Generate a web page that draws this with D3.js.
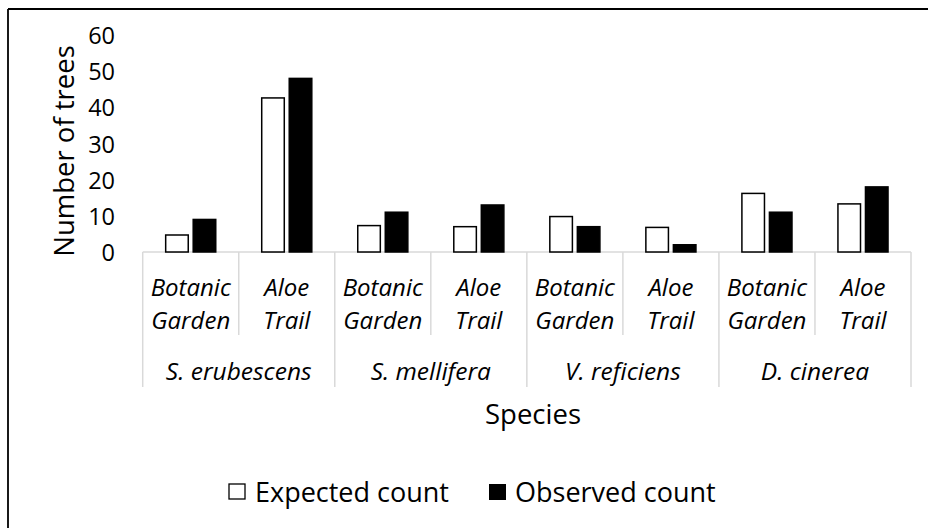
<!DOCTYPE html>
<html>
<head>
<meta charset="utf-8">
<script src="https://cdn.jsdelivr.net/npm/d3@7"></script>
<style>
  body { margin: 0; background: #fff; }
  text { font-family: 'Open Sans', sans-serif; fill: #000; }
</style>
</head>
<body>
<svg id="chart" width="928" height="528"></svg>
<script>
var sites = ["Botanic Garden", "Aloe Trail"];
var species = ["S. erubescens", "S. mellifera", "V. reficiens", "D. cinerea"];
var seriesNames = ["Expected count", "Observed count"];
var expected = [4.7, 42.6, 7.3, 7.0, 9.8, 6.8, 16.2, 13.3];
var observed = [9, 48, 11, 13, 7, 2, 11, 18];
var yTicks = [0, 10, 20, 30, 40, 50, 60];

var svg = d3.select("#chart");
var grid = "#d9d9d9";

// frame (only top and left edges show)
svg.append("line").attr("x1", 8).attr("y1", 9).attr("x2", 928).attr("y2", 9)
	.attr("stroke", "#000").attr("stroke-width", 1.8);
svg.append("line").attr("x1", 8).attr("y1", 9).attr("x2", 8).attr("y2", 528)
	.attr("stroke", "#000").attr("stroke-width", 1.8);

var cats = [];
species.forEach(function(sp) {
	sites.forEach(function(s) { cats.push(sp + "|" + s); });
});

var x = d3.scaleBand().domain(cats).range([142.7, 911]);
var xs = d3.scaleBand().domain(seriesNames).range([0, x.bandwidth()])
	.paddingInner(0.18).paddingOuter(0.835);
var y = d3.scaleLinear().domain([0, 60]).range([252, 35]);

// baseline
svg.append("line").attr("x1", x.range()[0]).attr("x2", x.range()[1])
	.attr("y1", y(0)).attr("y2", y(0)).attr("stroke", grid).attr("stroke-width", 1.5);

// category separators
var edges = cats.map(function(c) { return x(c); }).concat([x.range()[1]]);
edges.forEach(function(e, i) {
	svg.append("line").attr("x1", e).attr("x2", e)
		.attr("y1", y(0)).attr("y2", i % 2 === 0 ? 387 : 335)
		.attr("stroke", grid).attr("stroke-width", 1.5);
});

// bars
cats.forEach(function(c, i) {
	svg.append("rect")
		.attr("x", x(c) + xs("Expected count"))
		.attr("y", y(expected[i]))
		.attr("width", xs.bandwidth())
		.attr("height", y(0) - y(expected[i]))
		.attr("fill", "#fff").attr("stroke", "#000").attr("stroke-width", 1.5);
	svg.append("rect")
		.attr("x", x(c) + xs("Observed count"))
		.attr("y", y(observed[i]))
		.attr("width", xs.bandwidth())
		.attr("height", y(0) - y(observed[i]))
		.attr("fill", "#000").attr("stroke", "#000").attr("stroke-width", 1.5);
});

// y tick labels
svg.selectAll(".ytick").data(yTicks).enter().append("text")
	.attr("x", 115).attr("y", function(d) { return y(d); })
	.attr("text-anchor", "end").attr("dominant-baseline", "central")
	.attr("font-size", 23.5).text(function(d) { return d; });

// site labels (two lines)
cats.forEach(function(c) {
	var words = c.split("|")[1].split(" ");
	var cx = x(c) + x.bandwidth() / 2;
	words.forEach(function(w, j) {
		svg.append("text").attr("x", cx).attr("y", 286 + j * 33)
			.attr("text-anchor", "middle").attr("dominant-baseline", "central")
			.attr("font-size", 24).attr("font-style", "italic").text(w);
	});
});

// species labels
species.forEach(function(sp) {
	var cx = x(sp + "|" + sites[1]);
	svg.append("text").attr("x", cx).attr("y", 370)
		.attr("text-anchor", "middle").attr("dominant-baseline", "central")
		.attr("font-size", 24.5).attr("font-style", "italic").text(sp);
});

// axis titles
svg.append("text").attr("transform", "translate(63,151) rotate(-90)")
	.attr("text-anchor", "middle").attr("dominant-baseline", "central")
	.attr("font-size", 27.5).text("Number of trees");
svg.append("text").attr("x", 533).attr("y", 413)
	.attr("text-anchor", "middle").attr("dominant-baseline", "central")
	.attr("font-size", 27.5).text("Species");

// legend
var legendX = [229, 489];
seriesNames.forEach(function(name, i) {
	svg.append("rect").attr("x", legendX[i]).attr("y", 484)
		.attr("width", i === 0 ? 16 : 17).attr("height", i === 0 ? 15 : 16)
		.attr("fill", i === 0 ? "#fff" : "#000")
		.attr("stroke", "#000").attr("stroke-width", i === 0 ? 1.3 : 0);
	svg.append("text").attr("x", legendX[i] + 26).attr("y", 491)
		.attr("dominant-baseline", "central")
		.attr("font-size", 27).text(name);
});
</script>
</body>
</html>
